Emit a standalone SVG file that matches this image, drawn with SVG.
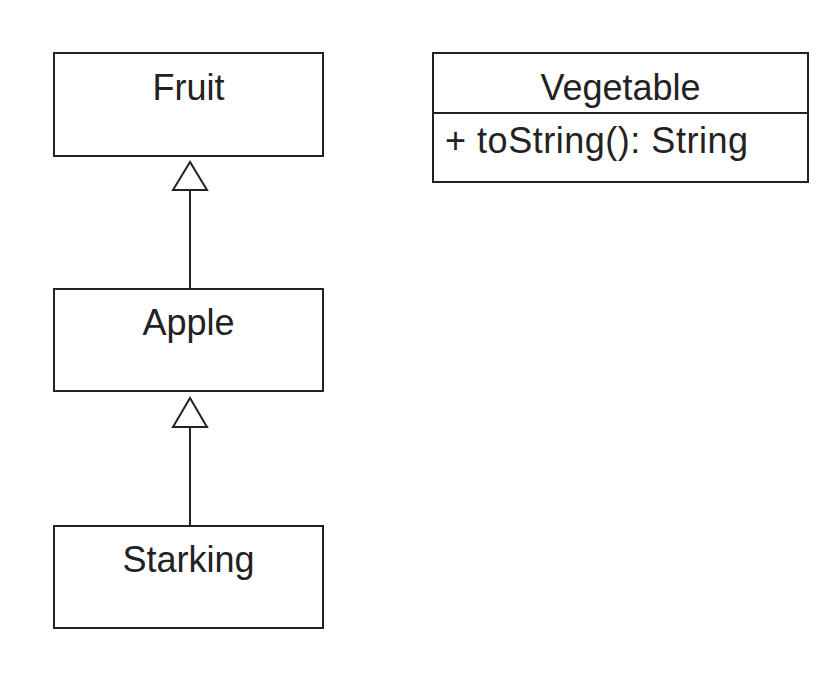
<svg xmlns="http://www.w3.org/2000/svg" width="840" height="682" viewBox="0 0 840 682">
<style>
.box{fill:#fff;stroke:#222;stroke-width:2}
.t{font-family:"Liberation Sans",Arial,sans-serif;font-size:36px;fill:#222}
.c{text-anchor:middle}
.conn{stroke:#222;stroke-width:2;fill:none}
.head{fill:#fff;stroke:#222;stroke-width:2;stroke-linejoin:miter}
</style>
<rect width="840" height="682" fill="#fff"/>
<g id="connectors">
<line class="conn" x1="190" y1="190" x2="190" y2="289"/>
<polygon class="head" points="190,162 173,190 207,190"/>
<line class="conn" x1="190" y1="427" x2="190" y2="526"/>
<polygon class="head" points="190,398 173,427 207,427"/>
</g>
<g id="Fruit">
<rect class="box" x="54" y="53" width="269" height="103"/>
<text class="t c" x="188.5" y="100">Fruit</text>
</g>
<g id="Apple">
<rect class="box" x="54" y="289" width="269" height="102"/>
<text class="t c" x="188.5" y="335">Apple</text>
</g>
<g id="Starking">
<rect class="box" x="54" y="526" width="269" height="102"/>
<text class="t c" x="188.5" y="572">Starking</text>
</g>
<g id="Vegetable">
<rect class="box" x="433" y="53" width="375" height="129"/>
<line class="conn" x1="433" y1="113" x2="808" y2="113"/>
<text class="t c" x="620.5" y="100">Vegetable</text>
<text class="t" x="445" y="153" textLength="303">+ toString(): String</text>
</g>
</svg>
